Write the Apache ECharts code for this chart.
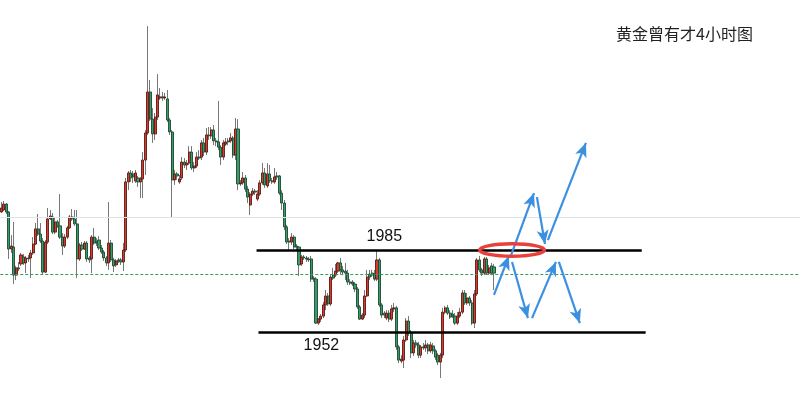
<!DOCTYPE html>
<html><head><meta charset="utf-8">
<script src="https://cdn.jsdelivr.net/npm/echarts@6/dist/echarts.min.js"></script>
<style>html,body{margin:0;padding:0;background:#fff}#c{width:800px;height:419px}</style>
</head><body><div id="c"></div>
<script>
// 4-hour gold candles (price units)
const opens = [2000.3,2001.1,2003.5,2000.3,1985.4,1986.2,1974.9,1977.8,1979.4,1982.2,1979.8,1981.8,1981.8,1983.8,1987.4,1993.5,1991.4,1988.6,1976.1,1988.2,1997.5,1998.3,1992.2,1996.3,1994.7,1990.2,1986.6,1990.2,1993.9,1998.3,1997.5,1995.5,1981.4,1987.0,1985.4,1987.8,1981.8,1981.4,1990.2,1988.2,1989.0,1985.8,1984.2,1981.8,1979.8,1987.8,1981.0,1979.0,1981.0,1981.0,1980.2,1985.0,2012.4,2016.0,2015.6,2012.8,2014.0,2012.4,2013.6,2021.2,2032.1,2048.6,2037.7,2031.7,2038.5,2046.2,2046.6,2046.2,2045.8,2037.3,2032.5,2013.2,2015.6,2012.4,2014.0,2020.4,2019.2,2020.0,2024.4,2018.0,2018.8,2022.4,2022.4,2028.1,2024.4,2031.3,2030.9,2033.3,2028.9,2028.5,2026.4,2022.4,2027.6,2028.9,2028.9,2030.1,2023.2,2033.7,2011.6,2012.0,2014.0,2009.5,2003.1,2007.5,2008.7,2005.5,2007.5,2012.0,2016.0,2010.8,2015.6,2012.8,2012.4,2014.8,2014.8,2007.9,2003.9,1994.3,1988.6,1988.2,1990.2,1986.6,1986.2,1979.4,1982.2,1981.8,1981.4,1981.4,1973.7,1973.3,1955.6,1957.2,1958.4,1962.9,1966.5,1963.3,1974.9,1974.9,1976.5,1979.8,1977.0,1976.5,1975.7,1972.1,1972.1,1971.3,1969.3,1962.1,1957.2,1958.8,1966.5,1975.3,1975.7,1975.3,1973.3,1981.0,1962.9,1959.6,1957.6,1959.6,1957.2,1961.3,1961.7,1946.0,1940.3,1940.7,1948.8,1956.4,1951.6,1943.6,1947.6,1946.8,1942.7,1946.0,1945.6,1946.8,1944.4,1946.4,1944.4,1942.7,1939.9,1942.7,1960.0,1961.7,1959.6,1959.2,1958.4,1955.6,1958.4,1960.0,1967.7,1963.7,1965.7,1963.7,1955.6,1967.3,1981.0,1977.0,1975.7,1981.4,1975.7,1978.6,1978.2];
const closes = [2001.9,2003.5,2000.3,1985.4,1986.6,1974.9,1977.8,1977.4,1983.0,1979.8,1981.8,1981.4,1983.8,1987.4,1993.5,1991.4,1988.6,1976.1,1988.2,1997.5,1998.7,1992.2,1996.3,1994.7,1990.2,1986.6,1990.2,1993.9,1998.3,1997.5,1995.5,1981.4,1987.0,1985.4,1987.8,1981.4,1981.0,1990.2,1987.8,1987.8,1985.8,1984.2,1981.8,1979.8,1987.8,1981.0,1978.6,1980.6,1980.6,1980.2,1985.0,2012.4,2016.0,2014.0,2014.4,2016.0,2012.4,2013.6,2021.2,2032.1,2048.6,2037.7,2031.7,2038.5,2047.4,2046.6,2046.2,2046.6,2037.3,2032.5,2013.2,2015.6,2014.8,2013.6,2020.4,2019.2,2020.0,2024.4,2018.0,2018.8,2022.4,2022.0,2028.1,2024.4,2031.3,2030.9,2033.3,2028.9,2028.5,2026.4,2022.4,2028.1,2028.5,2028.5,2030.1,2023.2,2033.7,2011.6,2012.0,2014.0,2009.5,2006.3,2007.5,2008.7,2008.3,2007.5,2012.0,2016.0,2011.2,2015.6,2012.8,2012.4,2014.4,2014.4,2007.9,2003.9,1994.3,1988.2,1988.2,1990.2,1986.2,1986.2,1979.0,1982.2,1981.8,1981.4,1981.0,1973.3,1973.3,1955.6,1957.2,1958.4,1962.9,1966.5,1963.3,1974.1,1973.7,1976.5,1979.8,1977.0,1976.1,1975.7,1972.1,1971.7,1971.3,1969.3,1962.1,1957.2,1958.8,1966.5,1974.1,1974.1,1974.9,1973.3,1981.0,1962.9,1958.8,1958.8,1959.6,1957.2,1961.3,1961.7,1946.0,1940.7,1941.1,1948.8,1956.4,1951.6,1943.6,1947.6,1946.8,1942.7,1946.0,1945.6,1946.8,1944.4,1946.8,1944.4,1941.9,1939.9,1942.7,1960.0,1961.7,1959.6,1958.0,1958.4,1955.6,1958.4,1960.0,1967.7,1963.7,1965.7,1963.7,1955.6,1967.3,1981.0,1977.0,1975.7,1981.4,1975.7,1977.8,1975.7,1975.7];
const highs = [2004.3,2004.7,2003.9,2000.7,1991.0,1996.3,1978.6,1980.2,1983.8,1983.4,1982.6,1983.0,1985.0,1990.2,1995.9,1999.5,1995.9,1989.8,1989.0,2001.9,2001.1,1999.9,1997.9,1997.1,2007.5,1991.8,1991.4,1994.7,1999.1,2001.5,2001.1,2001.1,1987.8,1988.2,1988.6,1988.6,1982.6,1991.0,1993.9,1989.8,1990.6,1987.0,1985.0,1982.6,2004.3,1989.0,1981.8,1981.4,1981.8,1981.8,1987.8,2014.0,2016.8,2017.2,2016.8,2017.2,2014.8,2014.4,2024.4,2033.3,2075.1,2053.4,2042.1,2040.1,2055.8,2050.2,2048.6,2048.2,2049.4,2038.1,2033.3,2017.2,2016.4,2015.2,2022.4,2022.0,2021.2,2026.8,2026.8,2020.4,2024.4,2025.2,2029.3,2030.1,2034.1,2034.5,2034.5,2035.3,2030.1,2045.0,2027.2,2029.3,2030.1,2030.1,2032.1,2030.9,2038.1,2037.7,2013.2,2016.4,2015.2,2010.8,2008.3,2010.0,2009.5,2009.1,2013.2,2020.0,2018.0,2020.0,2019.2,2014.0,2018.0,2016.4,2015.2,2009.1,2005.1,1995.1,1989.8,1991.8,1991.0,1987.4,1986.6,1983.0,1983.0,1982.6,1982.2,1982.6,1974.5,1974.1,1957.6,1959.2,1964.1,1968.9,1967.7,1975.3,1977.8,1979.4,1980.2,1981.8,1978.6,1979.8,1977.0,1973.3,1972.9,1972.1,1970.1,1962.9,1959.6,1968.9,1977.0,1977.0,1977.0,1977.0,1985.0,1981.8,1963.7,1960.4,1960.8,1960.8,1962.9,1963.7,1962.5,1946.8,1942.7,1950.4,1957.6,1958.4,1952.8,1948.8,1948.8,1948.0,1946.8,1947.6,1948.8,1947.6,1948.0,1947.6,1945.2,1943.6,1943.6,1961.7,1962.5,1962.9,1960.8,1960.8,1959.6,1960.0,1961.7,1968.9,1968.9,1967.7,1966.5,1964.9,1968.9,1981.8,1982.6,1977.8,1982.2,1982.2,1979.0,1979.8,1979.4];
const lows = [1999.9,2000.7,1999.5,1981.4,1983.8,1971.3,1972.9,1976.5,1978.6,1979.0,1975.7,1980.2,1973.7,1983.0,1987.0,1990.6,1987.8,1975.3,1975.7,1987.4,1997.1,1991.4,1991.4,1993.9,1989.4,1983.0,1985.8,1989.4,1993.5,1996.7,1994.7,1973.7,1980.6,1984.6,1985.0,1980.2,1979.8,1975.7,1987.0,1986.6,1985.0,1983.4,1980.6,1978.6,1977.0,1980.2,1976.1,1978.2,1979.8,1979.0,1976.5,1984.2,2009.1,2012.4,2012.0,2012.0,2010.4,2005.9,2005.9,2015.2,2031.3,2036.9,2028.1,2029.3,2037.3,2045.4,2045.0,2045.4,2036.5,2031.3,1998.3,2011.2,2013.2,2011.6,2013.2,2018.0,2017.2,2019.2,2017.2,2016.4,2018.0,2021.2,2021.2,2022.8,2023.2,2029.3,2029.7,2027.2,2026.8,2025.2,2019.2,2021.2,2026.8,2027.2,2028.1,2022.0,2021.2,2009.1,2010.8,2011.2,2008.3,2003.9,1999.1,2006.7,2007.1,2004.7,2006.7,2011.2,2010.0,2010.0,2012.0,2011.6,2011.6,2013.2,2007.1,2001.1,1993.0,1987.4,1985.0,1987.0,1985.4,1985.0,1974.5,1978.6,1981.0,1980.2,1980.2,1972.1,1972.1,1955.2,1954.8,1956.0,1957.6,1960.8,1962.5,1962.5,1972.9,1974.1,1975.7,1975.3,1974.9,1972.9,1970.9,1970.9,1970.5,1968.1,1961.3,1956.8,1956.8,1957.6,1966.1,1972.9,1974.1,1972.5,1972.5,1962.1,1957.6,1957.6,1956.8,1956.0,1956.4,1960.0,1944.8,1939.5,1939.5,1937.5,1948.0,1950.4,1941.5,1942.3,1945.6,1941.5,1941.5,1944.8,1944.0,1943.1,1943.6,1943.1,1940.7,1938.7,1933.5,1941.5,1959.2,1958.8,1957.2,1957.6,1954.8,1954.8,1957.6,1959.2,1962.9,1962.9,1962.5,1954.8,1953.6,1966.5,1976.1,1974.5,1974.9,1974.9,1974.9,1974.9,1968.9];

// reference levels and annotation values
const levelHigh = 1985, levelLow = 1952;
const levelLabels = ['1985', '1952'];
const greyLine = 1998.3, priceLine = 1975.3;
const titleText = '黄金曾有才4小时图';
// arrows: [startIndex, startPrice, endIndex, endPrice]
const arrows = [
  [202.0,1966.9,208.1,1982.6],
  [208.6,1981.8,218.4,2007.9],
  [219.6,2006.3,222.9,1987.4],
  [224.1,1989.0,239.7,2028.1],
  [209.4,1980.2,215.9,1957.6],
  [217.6,1957.6,227.4,1980.2],
  [228.6,1980.2,237.2,1955.6]
];
const levelSpans = [[104.6,262.6],[105.4,264.2]];
const ellipseAt = [209.4, 1985, 13.3, 2.5];
const labelAt = [[157.0, 1990.2], [131.2, 1946.4]];

const NCAT = 328, BAND = 2.443;
const cats = [];
for (let i = 0; i < NCAT; i++) cats.push(String(i));
const wickData = opens.map((o, i) => [o, closes[i], lows[i], highs[i]]);
const bodyData = opens.map((o, i) => [o, closes[i], Math.min(o, closes[i]), Math.max(o, closes[i])]);

const chart = echarts.init(document.getElementById('c'), null, {renderer: 'canvas'});
const UP = '#d43d2e', UPB = '#5a1a12', DN = '#3c9a6a', DNB = '#1b4a32';
chart.setOption({
  animation: false,
  backgroundColor: '#fff',
  title: {text: titleText, left: 611, top: 21, textStyle: {fontSize: 16, fontWeight: 'normal', color: '#222', fontFamily: 'Noto Sans CJK SC'}},
  grid: {left: 0.28, top: 0, width: NCAT * BAND, height: 419},
  xAxis: [
    {type: 'category', data: cats, show: false, boundaryGap: true},
    {type: 'value', min: -0.5, max: NCAT - 0.5, show: false}
  ],
  yAxis: {type: 'value', min: 1916.99, max: 2085.61, show: false, splitLine: {show: false}},
  series: [
    {type: 'candlestick', data: wickData, barWidth: 1, z: 2,
      itemStyle: {color: '#777', color0: '#777', borderColor: '#777', borderColor0: '#777', borderWidth: 1},
      markLine: {silent: true, symbol: 'none', label: {show: false},
        data: [
          {yAxis: greyLine, lineStyle: {color: '#dde4ea', width: 1, type: 'solid'}},
          {yAxis: priceLine, lineStyle: {color: '#3b9a5c', width: 1, type: [3, 2]}}
        ]}
    },
    {type: 'candlestick', data: bodyData, barWidth: 2.6, z: 3,
      itemStyle: {color: UP, color0: DN, borderColor: UPB, borderColor0: DNB, borderWidth: 0.9}
    },
    {type: 'scatter', xAxisIndex: 1, data: [], symbolSize: 0, z: 5,
      markLine: {silent: true, label: {show: false}, animation: false,
        data: [
          [{coord: [levelSpans[0][0], levelHigh], symbol: 'none', lineStyle: {color: '#000', width: 2.6, type: 'solid'}}, {coord: [levelSpans[0][1], levelHigh], symbol: 'none'}],
          [{coord: [levelSpans[1][0], levelLow], symbol: 'none', lineStyle: {color: '#000', width: 2.6, type: 'solid'}}, {coord: [levelSpans[1][1], levelLow], symbol: 'none'}]
        ].concat(arrows.map(a => [
          {coord: [a[0], a[1]], symbol: 'none', lineStyle: {color: '#3b90e2', width: 2.2, type: 'solid'}},
          {coord: [a[2], a[3]], symbol: 'arrow', symbolSize: [9, 14]}
        ]))
      }
    }
  ]
});

function px(x, y) { return chart.convertToPixel({seriesIndex: 2}, [x, y]); }
const c0 = px(ellipseAt[0], ellipseAt[1]);
const c1 = px(ellipseAt[0] + ellipseAt[2], ellipseAt[1] + ellipseAt[3]);
const t1 = px(labelAt[0][0], labelAt[0][1]), t2 = px(labelAt[1][0], labelAt[1][1]);
chart.setOption({
  graphic: [
    {type: 'ellipse', shape: {cx: c0[0], cy: c0[1], rx: c1[0] - c0[0], ry: c0[1] - c1[1]}, style: {fill: 'none', stroke: '#e8403a', lineWidth: 3.5}, z: 100},
    {type: 'text', x: t1[0], y: t1[1], style: {text: levelLabels[0], font: '16px "Liberation Sans"', fill: '#111', align: 'center', verticalAlign: 'middle'}, z: 100},
    {type: 'text', x: t2[0], y: t2[1], style: {text: levelLabels[1], font: '16px "Liberation Sans"', fill: '#111', align: 'center', verticalAlign: 'middle'}, z: 100}
  ]
});
</script></body></html>
